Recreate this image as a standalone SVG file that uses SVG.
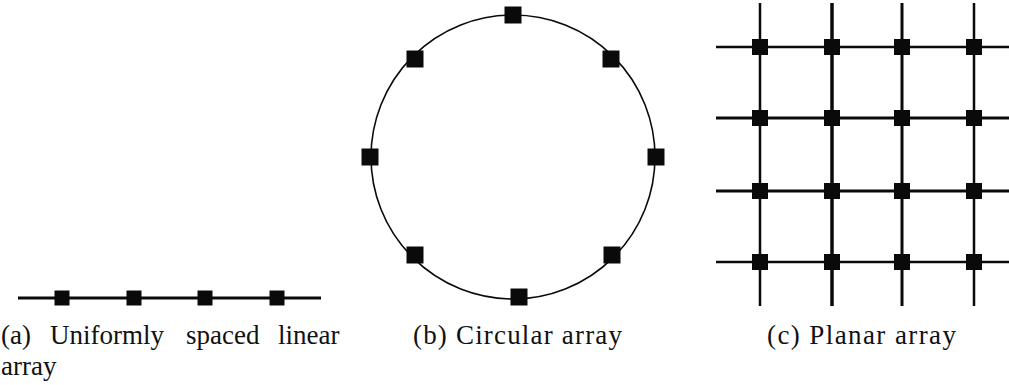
<svg xmlns="http://www.w3.org/2000/svg" width="1009" height="385" viewBox="0 0 1009 385">
<defs>
  <rect id="sq15" x="-7.5" y="-7.5" width="15" height="15" fill="#0a0a0a"/>
  <rect id="sq17" x="-8.5" y="-8.5" width="17" height="17" fill="#0a0a0a"/>
  <rect id="sq16" x="-8" y="-8" width="16" height="16" fill="#0a0a0a"/>
</defs>
<rect width="1009" height="385" fill="#fff"/>
<g id="connectors" stroke="#0a0a0a" fill="none">
  <line x1="18" y1="298" x2="321" y2="298" stroke-width="3"/>
  <circle cx="513" cy="157" r="142" stroke-width="1.6"/>
  <line x1="716" y1="47" x2="1009" y2="47" stroke-width="2.5"/>
  <line x1="716" y1="118" x2="1009" y2="118" stroke-width="3"/>
  <line x1="716" y1="191" x2="1009" y2="191" stroke-width="3"/>
  <line x1="716" y1="262" x2="1009" y2="262" stroke-width="2.5"/>
  <line x1="760" y1="3" x2="760" y2="306" stroke-width="2.5"/>
  <line x1="832" y1="3" x2="832" y2="306" stroke-width="3.5"/>
  <line x1="902" y1="3" x2="902" y2="306" stroke-width="3"/>
  <line x1="974" y1="3" x2="974" y2="306" stroke-width="2.5"/>
</g>
<g id="linear-array">
  <use href="#sq15" x="62" y="298"/>
  <use href="#sq15" x="134" y="298"/>
  <use href="#sq15" x="205" y="298"/>
  <use href="#sq15" x="277" y="298"/>
</g>
<g id="circular-array">
  <use href="#sq17" x="513" y="15"/>
  <use href="#sq17" x="415" y="59"/>
  <use href="#sq17" x="611" y="59"/>
  <use href="#sq17" x="370" y="157"/>
  <use href="#sq17" x="656" y="157"/>
  <use href="#sq17" x="415" y="255"/>
  <use href="#sq17" x="612" y="255"/>
  <use href="#sq17" x="519" y="297"/>
</g>
<g id="planar-array">
  <use href="#sq16" x="760" y="47"/>
  <use href="#sq16" x="832" y="47"/>
  <use href="#sq16" x="902" y="47"/>
  <use href="#sq16" x="974" y="47"/>
  <use href="#sq16" x="760" y="118"/>
  <use href="#sq16" x="832" y="118"/>
  <use href="#sq16" x="902" y="118"/>
  <use href="#sq16" x="974" y="118"/>
  <use href="#sq16" x="760" y="191"/>
  <use href="#sq16" x="832" y="191"/>
  <use href="#sq16" x="902" y="191"/>
  <use href="#sq16" x="974" y="191"/>
  <use href="#sq16" x="760" y="262"/>
  <use href="#sq16" x="832" y="262"/>
  <use href="#sq16" x="902" y="262"/>
  <use href="#sq16" x="974" y="262"/>
</g>
<g id="captions" font-family="Liberation Serif, serif" font-size="27" fill="#111">
  <text y="344"><tspan x="1">(a)</tspan><tspan x="50">Uniformly</tspan><tspan x="186">spaced</tspan><tspan x="278">linear</tspan></text>
  <text x="1" y="375">array</text>
  <text x="413" y="344" textLength="209" lengthAdjust="spacing">(b) Circular array</text>
  <text x="767" y="344" textLength="189" lengthAdjust="spacing">(c) Planar array</text>
</g>
</svg>
